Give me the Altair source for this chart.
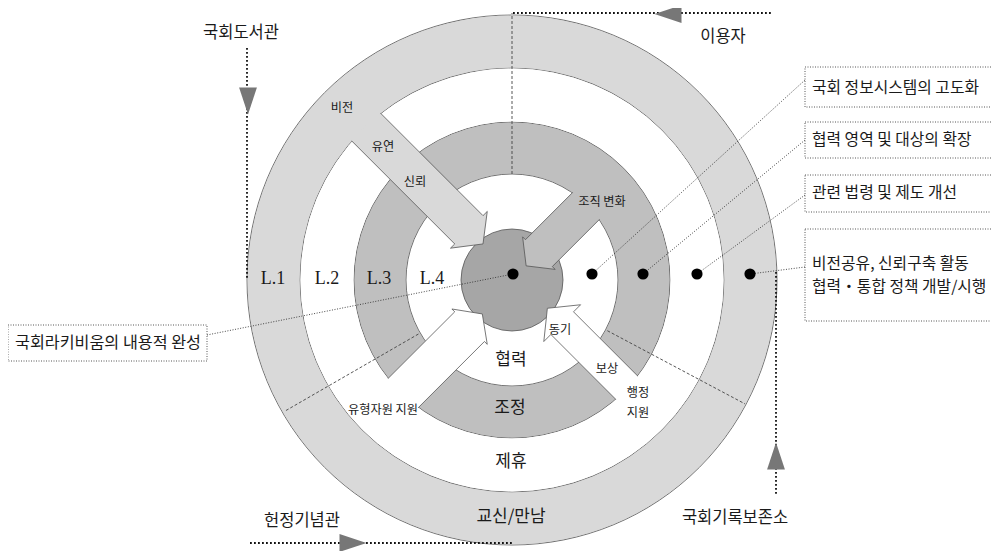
import math
import altair as alt
import pandas as pd

# ---------------- frame (page pixels) ----------------
W, H = 983, 543
CX, CY = 512, 280          # centre of the rings on the page


def fx(X):
    return X - CX


def fy(Y):
    return CY - Y


XS = alt.Scale(domain=[fx(8), fx(8 + W)], nice=False, zero=False)
YS = alt.Scale(domain=[fy(8 + H), fy(8)], nice=False, zero=False)

# ---------------- data ----------------
ring_names = ["L.1", "L.3", "core"]
ring_outer = [265, 158, 51]
ring_inner = [212, 106, 0]
ring_colors = ["#d9d9d9", "#bfbfbf", "#a6a6a6"]

level_labels = ["L.1", "L.2", "L.3", "L.4"]
level_label_x = [273, 327, 379, 432]
level_label_y = [279, 279, 279, 279]

arrow_names = ["비전", "조직 변화", "보상", "유형자원 지원"]
arrow_theta = [315, 45, 135, 225]
arrow_base_r = [217, 111, 163, 163]
arrow_neck_r = [66, 38, 66, 63]
arrow_apex_r = [46, 20, 45, 45]
arrow_body_hw = [20, 19, 16, 21]
arrow_head_hw = [26, 23, 26, 25]
arrow_offset = [5, 0, -5, -3]
arrow_colors = ["#d9d9d9", "#bfbfbf", "#ffffff", "#ffffff"]

divider_theta = [0, 118, 240]
divider_r_in = [106, 108, 108]
divider_r_out = [267, 264, 263]

flow_labels = ["국회도서관", "이용자", "헌정기념관", "국회기록보존소"]
flow_label_x = [241, 723, 302, 735]
flow_label_y = [33, 37, 521, 518]
flow_x1 = [247, 513, 250, 776]
flow_y1 = [48, 13, 543, 272]
flow_x2 = [247, 771, 513, 776]
flow_y2 = [279, 13, 543, 495]
flow_tri_x = [248, 668, 353, 776]
flow_tri_y = [101, 14, 543, 456]
flow_tri_angle = [90, 180, 0, 270]

dot_x = [513, 592, 643, 697, 750]
dot_y = [274, 274, 274, 274, 274]

box_left = [805, 805, 805, 805, 8]
box_right = [1010, 1010, 1010, 1010, 207]
box_top = [67, 122, 175, 229, 325]
box_bottom = [107, 158, 212, 321, 361]
box_link_x = [805, 805, 805, 805, 207]
box_link_y = [80, 140, 195, 267, 335]
box_link_dot = [1, 2, 3, 4, 0]

box_lines = ["국회 정보시스템의 고도화", "협력 영역 및 대상의 확장", "관련 법령 및 제도 개선",
             "비전공유, 신뢰구축 활동", "협력・통합 정책 개발/시행"]
box_line_x = [812, 812, 812, 812, 812]
box_line_y = [88, 140, 193, 264, 287]
left_box_text = ["국회라키비움의 내용적 완성"]
left_box_x = [108]
left_box_y = [343]

small_labels = ["비전", "유연", "신뢰", "조직 변화", "동기", "보상", "행정", "지원", "유형자원 지원"]
small_x = [342, 383, 415, 602, 560, 607, 638, 638, 383]
small_y = [108, 147, 182, 202, 330, 369, 393, 413, 410]

mid_labels = ["협력", "조정", "제휴", "교신/만남"]
mid_x = [511, 510, 511, 511]
mid_y = [360, 408, 462, 517]

KFONT = "Noto Sans CJK KR"
TXT = "#1a1a1a"
EDGE = "#555555"


def X(f):
    return alt.X(f"{f}:Q", scale=XS, axis=None)


def Y(f):
    return alt.Y(f"{f}:Q", scale=YS, axis=None)


def ring(r_out, r_in, fill, stroke=True):
    df = pd.DataFrame({"cx": [0], "cy": [0], "t0": [0.0], "t1": [2 * math.pi],
                       "ro": [r_out], "ri": [r_in]})
    kw = dict(fill=fill, opacity=1)
    if stroke:
        kw.update(stroke=EDGE, strokeWidth=0.8)
    return alt.Chart(df).mark_arc(**kw).encode(
        x=X("cx"), y=Y("cy"),
        theta=alt.Theta("t0:Q", scale=None, stack=None), theta2=alt.Theta2("t1"),
        radius=alt.Radius("ro:Q", scale=None), radius2=alt.Radius2("ri"))


def arrow_path(i):
    t = math.radians(arrow_theta[i])
    ux, uy = math.sin(t), -math.cos(t)
    vx, vy = math.cos(t), math.sin(t)
    off = arrow_offset[i]

    def P(r, s):
        s2 = s + off
        return (r * ux + s2 * vx, r * uy + s2 * vy)

    rb, rn, ra = arrow_base_r[i], arrow_neck_r[i], arrow_apex_r[i]
    bw, hw = arrow_body_hw[i], arrow_head_hw[i]
    pts = [P(rb, bw), P(rn, bw), P(rn, hw), P(ra, 0), P(rn, -hw), P(rn, -bw), P(rb, -bw)]
    return "M" + " L".join(f"{x:.2f} {y:.2f}" for x, y in pts)


def arrow(i):
    df = pd.DataFrame({"cx": [0], "cy": [0], "name": [arrow_names[i]]})
    return alt.Chart(df).mark_point(
        shape=arrow_path(i), size=4, filled=True, fill=arrow_colors[i],
        stroke=EDGE, strokeWidth=0.8, opacity=1, fillOpacity=1, strokeOpacity=1
    ).encode(x=X("cx"), y=Y("cy"))


layers = []
# base rings
for k in range(3):
    layers.append(ring(ring_outer[k], ring_inner[k], ring_colors[k]))
# inner arrow of L.3 and cover
layers.append(arrow(1))
layers.append(ring(157.4, 106.6, ring_colors[1], stroke=False))
# white arrows and L.2 cover
layers.append(arrow(2))
layers.append(arrow(3))
layers.append(ring(211.4, 158.6, "#ffffff", stroke=False))
# L.1 arrow and cover
layers.append(arrow(0))
layers.append(ring(264.4, 212.6, ring_colors[0], stroke=False))

# dividers
div_df = pd.DataFrame({
    "x1": [divider_r_in[k] * math.sin(math.radians(divider_theta[k])) for k in range(3)],
    "y1": [divider_r_in[k] * math.cos(math.radians(divider_theta[k])) for k in range(3)],
    "x2": [divider_r_out[k] * math.sin(math.radians(divider_theta[k])) for k in range(3)],
    "y2": [divider_r_out[k] * math.cos(math.radians(divider_theta[k])) for k in range(3)],
})
layers.append(alt.Chart(div_df).mark_rule(color="#444444", strokeWidth=0.9, strokeDash=[3, 2]).encode(
    x=X("x1"), y=Y("y1"), x2=alt.X2("x2"), y2=alt.Y2("y2")))

# flows
flow_df = pd.DataFrame({
    "name": flow_labels,
    "x1": [fx(v) for v in flow_x1], "y1": [fy(v) for v in flow_y1],
    "x2": [fx(v) for v in flow_x2], "y2": [fy(v) for v in flow_y2],
})
layers.append(alt.Chart(flow_df).mark_rule(color="#111111", strokeWidth=1.8, strokeDash=[1.8, 2.2]).encode(
    x=X("x1"), y=Y("y1"), x2=alt.X2("x2"), y2=alt.Y2("y2")))
tri_df = pd.DataFrame({"x": [fx(v) for v in flow_tri_x], "y": [fy(v) for v in flow_tri_y],
                       "ang": flow_tri_angle})
layers.append(alt.Chart(tri_df).mark_point(
    shape="M -1 -0.66 L 1 0 L -1 0.66 Z", size=729, filled=True, fill="#777777",
    opacity=1, fillOpacity=1, strokeWidth=0
).encode(x=X("x"), y=Y("y"), angle=alt.Angle("ang:Q", scale=None)))
flow_lab_df = pd.DataFrame({"t": flow_labels, "x": [fx(v) for v in flow_label_x],
                            "y": [fy(v) for v in flow_label_y]})
layers.append(alt.Chart(flow_lab_df).mark_text(font=KFONT, fontSize=16.5, color=TXT, baseline="middle").encode(
    x=X("x"), y=Y("y"), text="t:N"))

# boxes
box_df = pd.DataFrame({"x1": [fx(v) for v in box_left], "x2": [fx(v) for v in box_right],
                       "y1": [fy(v) for v in box_top], "y2": [fy(v) for v in box_bottom]})
layers.append(alt.Chart(box_df).mark_rect(fill="#ffffff", fillOpacity=0, stroke="#444444", strokeWidth=0.9,
                                          strokeDash=[1, 1.5]).encode(
    x=X("x1"), x2=alt.X2("x2"), y=Y("y1"), y2=alt.Y2("y2")))
link_df = pd.DataFrame({"x1": [fx(v) for v in box_link_x], "y1": [fy(v) for v in box_link_y],
                        "x2": [fx(dot_x[j]) for j in box_link_dot],
                        "y2": [fy(dot_y[j]) for j in box_link_dot]})
layers.append(alt.Chart(link_df).mark_rule(color="#333333", strokeWidth=0.9, strokeDash=[1, 1.6]).encode(
    x=X("x1"), y=Y("y1"), x2=alt.X2("x2"), y2=alt.Y2("y2")))

# dots
dot_df = pd.DataFrame({"x": [fx(v) for v in dot_x], "y": [fy(v) for v in dot_y]})
layers.append(alt.Chart(dot_df).mark_circle(size=125, color="#000000", opacity=1).encode(x=X("x"), y=Y("y")))

# texts
bl_df = pd.DataFrame({"t": box_lines, "x": [fx(v) for v in box_line_x], "y": [fy(v) for v in box_line_y]})
layers.append(alt.Chart(bl_df).mark_text(font=KFONT, fontSize=15.8, color=TXT, align="left",
                                         baseline="middle").encode(x=X("x"), y=Y("y"), text="t:N"))
lb_df = pd.DataFrame({"t": left_box_text, "x": [fx(v) for v in left_box_x], "y": [fy(v) for v in left_box_y]})
layers.append(alt.Chart(lb_df).mark_text(font=KFONT, fontSize=16.2, color=TXT, baseline="middle").encode(
    x=X("x"), y=Y("y"), text="t:N"))
sm_df = pd.DataFrame({"t": small_labels, "x": [fx(v) for v in small_x], "y": [fy(v) for v in small_y]})
layers.append(alt.Chart(sm_df).mark_text(font=KFONT, fontSize=12.2, color=TXT, baseline="middle").encode(
    x=X("x"), y=Y("y"), text="t:N"))
md_df = pd.DataFrame({"t": mid_labels, "x": [fx(v) for v in mid_x], "y": [fy(v) for v in mid_y]})
layers.append(alt.Chart(md_df).mark_text(font=KFONT, fontSize=17, color=TXT, baseline="middle").encode(
    x=X("x"), y=Y("y"), text="t:N"))
lv_df = pd.DataFrame({"t": level_labels, "x": [fx(v) for v in level_label_x],
                      "y": [fy(v) for v in level_label_y]})
layers.append(alt.Chart(lv_df).mark_text(font="Liberation Serif", fontSize=18, color=TXT,
                                         baseline="middle").encode(x=X("x"), y=Y("y"), text="t:N"))

chart = alt.layer(*layers).properties(
    width=W, height=H, padding=0, autosize=alt.AutoSizeParams(type="none")
).configure_view(stroke="transparent")

chart.save("out.html", embed_options={"renderer": "svg", "actions": False})
